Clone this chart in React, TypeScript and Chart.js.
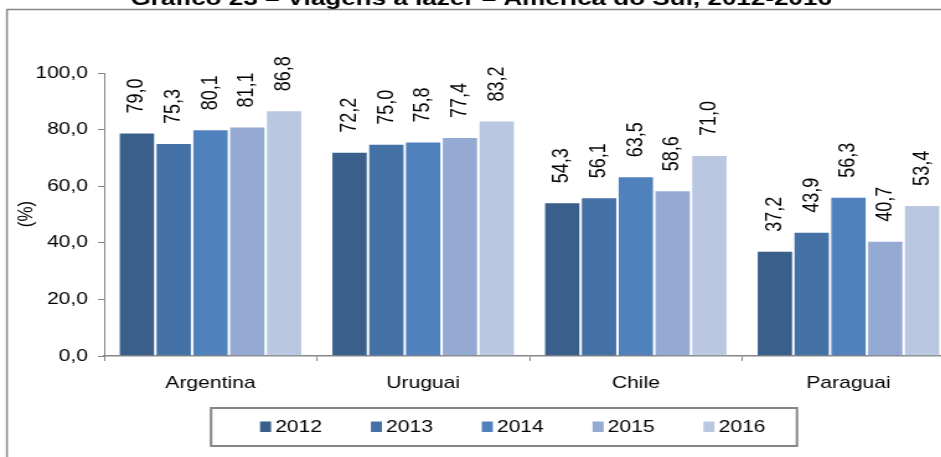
import React, { useEffect, useRef } from 'react';
import { Chart, registerables } from 'chart.js';

Chart.register(...registerables);

const categories = ['Argentina', 'Uruguai', 'Chile', 'Paraguai'];
const years = ['2012', '2013', '2014', '2015', '2016'];
const v2012 = [79.0, 72.2, 54.3, 37.2];
const v2013 = [75.3, 75.0, 56.1, 43.9];
const v2014 = [80.1, 75.8, 63.5, 56.3];
const v2015 = [81.1, 77.4, 58.6, 40.7];
const v2016 = [86.8, 83.2, 71.0, 53.4];
const seriesValues = [v2012, v2013, v2014, v2015, v2016];
const seriesColors = ['#3A5F8B', '#4471A6', '#4F81BD', '#95AAD2', '#B9C7E1'];
const yMin = 0;
const yMax = 100;
const yStep = 20;
const titleText = 'Gráfico 23 – Viagens a lazer – América do Sul, 2012-2016';
const yAxisTitle = '(%)';

// horizontal stretch of the original picture
const SX = 1.24;
const W = 790;
const H = 457;
const FONT = "'Liberation Sans', Arial, sans-serif";
const GRAY = '#868686';

const fmt = (v: number) => Number(v).toFixed(1).replace('.', ',');

const decorPlugin = {
  id: 'decor',
  afterDraw(chart: any) {
    const ctx = chart.ctx as CanvasRenderingContext2D;
    ctx.save();
    // outer frame
    ctx.strokeStyle = GRAY;
    ctx.lineWidth = 1.5;
    ctx.strokeRect(5.6, 9.5, W + 30, H + 30);

    // title (cut off at the top)
    ctx.fillStyle = '#000';
    ctx.font = `bold 21px ${FONT}`;
    ctx.textAlign = 'center';
    ctx.textBaseline = 'alphabetic';
    ctx.fillText(titleText, 388, 4.5);

    // y axis title
    ctx.save();
    ctx.translate(21.6, 214);
    ctx.rotate(-Math.PI / 2);
    ctx.font = `17px ${FONT}`;
    ctx.textAlign = 'center';
    ctx.textBaseline = 'middle';
    ctx.fillText(yAxisTitle, 0, 0);
    ctx.restore();

    // data labels
    ctx.font = `18px ${FONT}`;
    ctx.fillStyle = '#000';
    chart.data.datasets.forEach((ds: any, i: number) => {
      const meta = chart.getDatasetMeta(i);
      meta.data.forEach((bar: any, j: number) => {
        ctx.save();
        ctx.translate(bar.x, bar.y - 19);
        ctx.rotate(-Math.PI / 2);
        ctx.textAlign = 'left';
        ctx.textBaseline = 'middle';
        ctx.fillText(fmt(ds.data[j]), 0, 0);
        ctx.restore();
      });
    });

    // legend box
    ctx.strokeStyle = GRAY;
    ctx.lineWidth = 2;
    ctx.strokeRect(170.2, 408, 472.5, 38);
    ctx.font = `17px ${FONT}`;
    ctx.textAlign = 'left';
    ctx.textBaseline = 'middle';
    chart.data.datasets.forEach((ds: any, i: number) => {
      const x = 209.7 + 89.4 * i;
      ctx.fillStyle = ds.backgroundColor;
      ctx.fillRect(x, 421.5, 8.9, 10.5);
      ctx.fillStyle = '#000';
      ctx.fillText(ds.label, x + 12.2, 427.5);
    });
    ctx.restore();
  },
};

export default function App() {
  const canvasRef = useRef<HTMLCanvasElement | null>(null);

  useEffect(() => {
    if (!canvasRef.current) return;
    const chart = new Chart(canvasRef.current, {
      type: 'bar',
      data: {
        labels: categories,
        datasets: years.map((y, i) => ({
          label: y,
          data: seriesValues[i],
          backgroundColor: seriesColors[i],
          borderColor: 'rgba(255,255,255,0.35)',
          borderWidth: 1,
          categoryPercentage: 0.865,
          barPercentage: 1.0,
        })),
      },
      options: {
        responsive: false,
        animation: false,
        events: [],
        layout: { padding: { top: 73, left: 0, right: W - 770, bottom: 0 } },
        plugins: {
          legend: { display: false },
          tooltip: { enabled: false },
          title: { display: false },
        },
        scales: {
          x: {
            grid: {
              offset: true,
              drawOnChartArea: false,
              drawTicks: true,
              tickLength: 5,
              color: GRAY,
            },
            border: { display: true, color: GRAY, width: 1.5 },
            ticks: {
              color: '#000',
              font: { family: FONT, size: 17 },
              padding: 12,
              maxRotation: 0,
              autoSkip: false,
            },
            afterFit: (scale: any) => {
              scale.height = 101;
            },
          },
          y: {
            min: yMin,
            max: yMax,
            grid: {
              drawOnChartArea: false,
              drawTicks: true,
              tickLength: 5,
              color: GRAY,
            },
            border: { display: true, color: GRAY, width: 1 },
            ticks: {
              stepSize: yStep,
              color: '#000',
              font: { family: FONT, size: 17 },
              padding: 8,
              callback: (v: any) => fmt(v),
            },
            afterFit: (scale: any) => {
              scale.width = 84;
            },
          },
        },
      },
      plugins: [decorPlugin],
    });
    return () => chart.destroy();
  }, []);

  return (
    <div
      style={{
        position: 'fixed',
        left: 0,
        top: 0,
        width: 941,
        height: 457,
        overflow: 'hidden',
        background: '#fff',
      }}
    >
      <div
        style={{
          width: W,
          height: H,
          transform: `scaleX(${SX})`,
          transformOrigin: '0 0',
        }}
      >
        <canvas ref={canvasRef} width={W} height={H} style={{ display: 'block' }} />
      </div>
    </div>
  );
}
